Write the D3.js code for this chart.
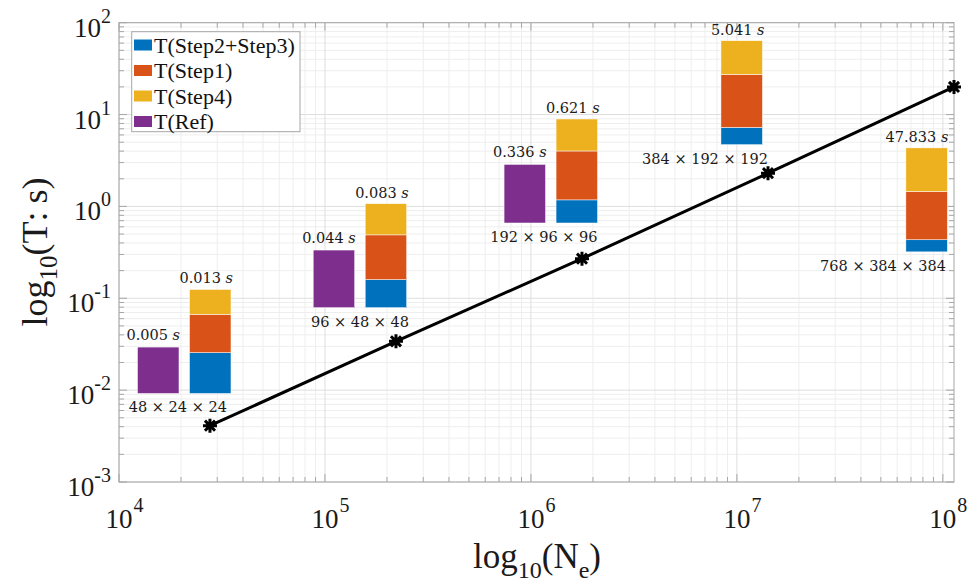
<!DOCTYPE html>
<html><head><meta charset="utf-8">
<script src="https://cdn.jsdelivr.net/npm/d3@7"></script>
<style>body{margin:0;background:#fff} svg{display:block}</style>
</head><body><svg id="c" width="976" height="582"></svg>
<script>
// ---- data ----
const meshLabels = ["48 × 24 × 24", "96 × 48 × 48", "192 × 96 × 96", "384 × 192 × 192", "768 × 384 × 384"];
const elementCounts = [27648, 221184, 1769472, 14155776, 113246208];
const lineTimes = [0.0041, 0.034, 0.27, 2.3, 20];
const tStep23 = [0.0051, 0.0224, 0.138, 0.837, 5.57];
const tStep1  = [0.0048, 0.0357, 0.292, 2.567, 22.2];
const tStep4  = [0.0031, 0.0249, 0.191, 1.637, 20.07];
const totalLabels = ["0.013", "0.083", "0.621", "5.041", "47.833"];
const tRef = [0.0058, 0.046, 0.35, null, null];
const refLabels = ["0.005", "0.044", "0.336", null, null];
// inset anchors (data units)
const insetNe = [27730, 197700, 1.67e6, 1.055e7, 8.34e7];
const insetBaseT = [0.0092, 0.079, 0.66, 4.7, 0.32];
const meshLabelNe = [19300, 148000, 1.156e6, 7.0e6, 5.12e7];
const legendLabels = ["T(Step2+Step3)", "T(Step1)", "T(Step4)", "T(Ref)"];
const xTickExp = [4, 5, 6, 7, 8];
const yTickExp = [-3, -2, -1, 0, 1, 2];

// ---- layout ----
const colors = {s23: "#0072BD", s1: "#D95319", s4: "#EDB120", ref: "#7E2F8E"};
const legendColors = [colors.s23, colors.s1, colors.s4, colors.ref];
const L = 119, R = 954, T = 22.7, B = 482;
const svg = d3.select("#c");
const x = d3.scaleLog().domain([1e4, 113246208]).range([L, R]);
const y = d3.scaleLog().domain([1e-3, 1e2]).range([B, T]);
const serif = "'Liberation Serif', 'Times New Roman', serif";
const lblFont = "'DejaVu Serif', serif";

// grid
const gx = [], gxm = [];
for (let e = 4; e <= 8; e++) for (let k = 1; k <= 9; k++) {
  const v = k * Math.pow(10, e);
  if (v < x.domain()[0] || v > x.domain()[1]) continue;
  (k === 1 ? gx : gxm).push(v);
}
const gy = [], gym = [];
for (let e = -3; e <= 2; e++) for (let k = 1; k <= 9; k++) {
  const v = k * Math.pow(10, e);
  if (v < 1e-3 || v > 100.0001) continue;
  (k === 1 ? gy : gym).push(v);
}
const grid = svg.append("g");
grid.selectAll(".gxm").data(gxm).join("line").attr("x1", d => x(d)).attr("x2", d => x(d)).attr("y1", T).attr("y2", B).attr("stroke", "#eeeeee");
grid.selectAll(".gym").data(gym).join("line").attr("y1", d => y(d)).attr("y2", d => y(d)).attr("x1", L).attr("x2", R).attr("stroke", "#eeeeee");
grid.selectAll(".gx").data(gx).join("line").attr("x1", d => x(d)).attr("x2", d => x(d)).attr("y1", T).attr("y2", B).attr("stroke", "#dedede");
grid.selectAll(".gy").data(gy).join("line").attr("y1", d => y(d)).attr("y2", d => y(d)).attr("x1", L).attr("x2", R).attr("stroke", "#dedede");

// axes box + inward ticks
const axc = "#a6a6a6";
const ax = svg.append("g").attr("stroke", axc).attr("fill", "none");
ax.append("rect").attr("x", L).attr("y", T).attr("width", R - L).attr("height", B - T).attr("stroke-width", 1);
const tk = m => m ? 8 : 5;
gx.concat(gxm).forEach(v => {
  const m = gx.includes(v);
  ax.append("line").attr("x1", x(v)).attr("x2", x(v)).attr("y1", B).attr("y2", B - tk(m));
  ax.append("line").attr("x1", x(v)).attr("x2", x(v)).attr("y1", T).attr("y2", T + tk(m));
});
gy.concat(gym).forEach(v => {
  const m = gy.includes(v);
  ax.append("line").attr("y1", y(v)).attr("y2", y(v)).attr("x1", L).attr("x2", L + tk(m));
  ax.append("line").attr("y1", y(v)).attr("y2", y(v)).attr("x1", R).attr("x2", R - tk(m));
});

// tick labels
const tl = svg.append("g").attr("font-family", serif).attr("fill", "#1a1a1a");
yTickExp.forEach(e => {
  const t = tl.append("text").attr("x", 111).attr("y", y(Math.pow(10, e)) + 14).attr("text-anchor", "end").attr("font-size", 27);
  t.append("tspan").text("10");
  t.append("tspan").attr("font-size", 20).attr("dy", -14).text(String(e));
});
xTickExp.forEach(e => {
  const cx = x(Math.pow(10, e));
  const t = tl.append("text").attr("x", cx).attr("y", B + 46).attr("text-anchor", "middle").attr("font-size", 27).text("10");
  const w = t.node().getComputedTextLength();
  tl.append("text").attr("x", cx + w / 2 + 1).attr("y", B + 30).attr("font-size", 20).text(e);
});

// axis titles
const xt = svg.append("text").attr("x", 537).attr("y", 568).attr("text-anchor", "middle").attr("font-family", serif).attr("font-size", 35).attr("fill", "#1a1a1a");
xt.append("tspan").text("log");
xt.append("tspan").attr("font-size", 24).attr("dy", 10).text("10");
xt.append("tspan").attr("dy", -10).text("(N");
xt.append("tspan").attr("font-size", 24).attr("dy", 10).text("e");
xt.append("tspan").attr("dy", -10).text(")");
const yt = svg.append("text").attr("transform", "translate(47,252) rotate(-90)").attr("text-anchor", "middle").attr("font-family", serif).attr("font-size", 36).attr("fill", "#1a1a1a");
yt.append("tspan").text("log");
yt.append("tspan").attr("font-size", 25).attr("dy", 10).text("10");
yt.append("tspan").attr("dy", -10).text("(T");
yt.append("tspan").attr("dx", 2).text(":");
yt.append("tspan").attr("dx", 8).text("s)");

// inset bars
const barW = 41.5, gap = 10.5, barH = 104;
const insets = svg.append("g");
elementCounts.forEach((n, i) => {
  const segs = [tStep23[i], tStep1[i], tStep4[i]];
  const segCol = [colors.s23, colors.s1, colors.s4];
  const total = d3.sum(segs);
  const h = d3.scaleLinear().domain([0, total]).range([0, barH]);
  const cx = x(insetNe[i]);
  const by = y(insetBaseT[i]);
  const sx = cx - barW / 2;
  let acc = 0;
  segs.forEach((v, j) => {
    insets.append("rect").attr("x", sx).attr("width", barW)
      .attr("y", by - h(acc + v)).attr("height", h(v)).attr("fill", segCol[j])
      .attr("stroke", "#fff").attr("stroke-width", 0.5);
    acc += v;
  });
  const last = i === elementCounts.length - 1;
  const tt = insets.append("text").attr("x", last ? sx + barW + 1 : cx - 4).attr("y", by - barH - 6)
    .attr("text-anchor", last ? "end" : "middle").attr("font-family", lblFont).attr("font-size", 14.5).attr("fill", "#1a1a1a");
  tt.append("tspan").text(totalLabels[i] + " ");
  tt.append("tspan").attr("font-style", "italic").text("s");
  if (tRef[i] != null) {
    const px = sx - gap - barW;
    const rh = h(tRef[i]);
    insets.append("rect").attr("x", px).attr("width", barW).attr("y", by - rh).attr("height", rh)
      .attr("fill", colors.ref).attr("stroke", "#fff").attr("stroke-width", 0.5);
    const rt = insets.append("text").attr("x", px + barW / 2 - 5).attr("y", by - rh - 7)
      .attr("text-anchor", "middle").attr("font-family", lblFont).attr("font-size", 14.5).attr("fill", "#1a1a1a");
    rt.append("tspan").text(refLabels[i] + " ");
    rt.append("tspan").attr("font-style", "italic").text("s");
  }
  insets.append("text").attr("x", x(meshLabelNe[i])).attr("y", by + 19).attr("text-anchor", "middle")
    .attr("font-family", lblFont).attr("font-size", 14.5).attr("fill", "#1a1a1a").text(meshLabels[i]);
});

// line + star markers
const pts = elementCounts.map((n, i) => [x(n), y(lineTimes[i])]);
svg.append("path").attr("d", d3.line()(pts)).attr("fill", "none").attr("stroke", "#000").attr("stroke-width", 3);
const s = 7;
const d45 = s * 0.72;
const starPath = `M${-s},0L${s},0M0,${-s}L0,${s}M${-d45},${-d45}L${d45},${d45}M${-d45},${d45}L${d45},${-d45}`;
svg.selectAll(".star").data(pts).join("path").attr("transform", d => `translate(${d[0]},${d[1]})`)
  .attr("d", starPath).attr("stroke", "#000").attr("stroke-width", 3).attr("fill", "none");

// legend
const lg = svg.append("g");
lg.append("rect").attr("x", 131.7).attr("y", 31.7).attr("width", 168.3).attr("height", 100).attr("fill", "#fff").attr("stroke", "#a6a6a6");
legendLabels.forEach((t, i) => {
  const cy = 45 + i * 25.5;
  lg.append("rect").attr("x", 134).attr("y", cy - 5.5).attr("width", 18).attr("height", 11).attr("fill", legendColors[i]);
  lg.append("text").attr("x", 154).attr("y", cy + 7.5).attr("font-family", serif).attr("font-size", 22).attr("fill", "#111").text(t);
});
</script></body></html>
